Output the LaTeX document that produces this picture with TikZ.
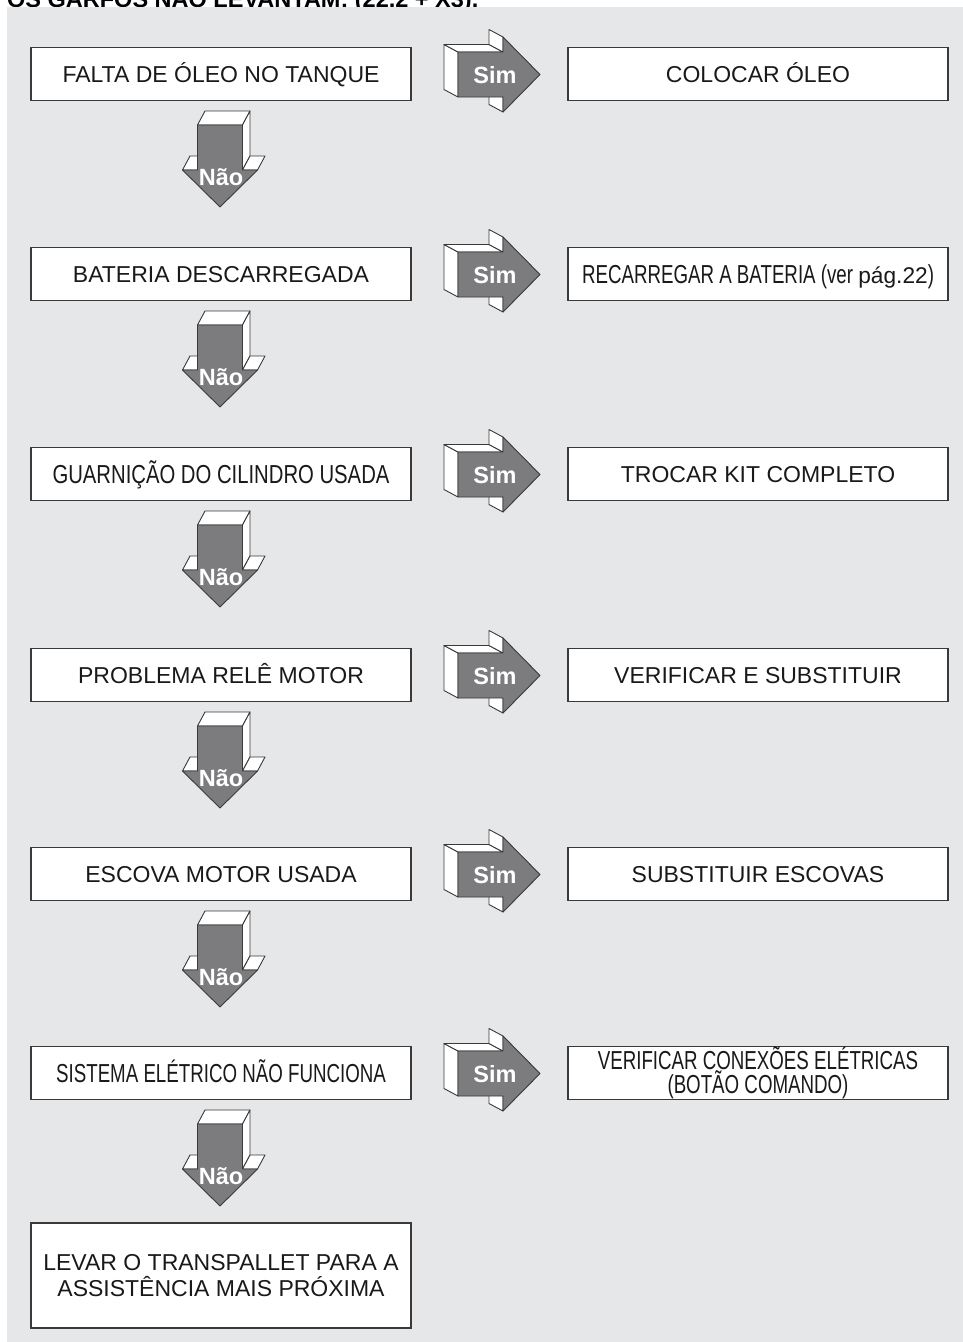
\documentclass[tikz,border=0pt]{standalone}
\usepackage{fontspec}
\setmainfont{Liberation Sans}
\newfontfamily\condfont[FakeStretch=0.72]{Liberation Sans}
\newfontfamily\semicondfont[FakeStretch=0.78]{Liberation Sans}
\usetikzlibrary{positioning}
\definecolor{panelgray}{HTML}{E6E7E9}
\definecolor{arrowgray}{HTML}{7C7C7F}
\definecolor{edgegray}{HTML}{3A3A3A}

\tikzset{
  twobox/.style={draw=edgegray, line width=1.1pt, fill=white, minimum width=380pt,
    minimum height=53pt, inner sep=0pt, align=center,
    font=\fontsize{23}{26}\selectfont, text=black!90},
  qbox/.style={twobox, text height=17pt, text depth=0pt},
  condbox/.style={qbox, font=\fontsize{26}{24}\condfont, text height=18pt},
  condtwobox/.style={twobox, font=\fontsize{26}{24}\condfont},
  arrowlbl/.style={font=\fontsize{23.5}{24}\bfseries\selectfont, text=white, inner sep=0pt},
  face/.style={draw=edgegray, line width=0.9pt, fill=white, line join=round},
  front/.style={draw=edgegray, line width=0.9pt, fill=arrowgray, line join=round},
  arrow3d/.pic={
    % side faces
    \filldraw[face] (0,-22.5) -- (0,22.5) -- (-14,15) -- (-14,-30) -- cycle;
    \filldraw[face] (0,-22.5) -- (45,-22.5) -- (31,-30) -- (-14,-30) -- cycle;
    \filldraw[face] (45,-22.5) -- (45,-37.5) -- (31,-45) -- (31,-30) -- cycle;
    \filldraw[face] (45,22.5) -- (45,37.5) -- (31,30) -- (31,15) -- cycle;
    % front face
    \filldraw[front] (0,-22.5) -- (45,-22.5) -- (45,-37.5) -- (82,0) -- (45,37.5)
      -- (45,22.5) -- (0,22.5) -- cycle;
  }
}

\begin{document}
\begin{tikzpicture}[x=1pt, y=-1pt]
  \useasboundingbox (0,0) rectangle (963,1342);
  \clip (0,0) rectangle (963,1342);
  \node[anchor=base west, inner sep=0pt, font=\fontsize{23.5}{24}\bfseries\selectfont]
    (title) at (7,7) {OS GARFOS NÃO LEVANTAM: (22,2 + X3).};
  \fill[panelgray] (7,7) rectangle (963,1342);

  \foreach \y/\q/\a/\qs/\as [count=\n] in {
      74/{FALTA DE ÓLEO NO TANQUE}/{COLOCAR ÓLEO}/qbox/qbox,
      274/{BATERIA DESCARREGADA}/{RECARREGAR A BATERIA (ver {\fontsize{22.7}{24}\rmfamily pág.22})}/qbox/condbox,
      474/{{\semicondfont GUARNIÇÃO DO CILINDRO USADA}}/{TROCAR KIT COMPLETO}/condbox/qbox,
      675/{PROBLEMA RELÊ MOTOR}/{VERIFICAR E SUBSTITUIR}/qbox/qbox,
      874/{ESCOVA MOTOR USADA}/{SUBSTITUIR ESCOVAS}/qbox/qbox,
      1073/{SISTEMA ELÉTRICO NÃO FUNCIONA}/{VERIFICAR CONEXÕES ELÉTRICAS\\(BOTÃO COMANDO)}/condbox/condtwobox} {
    \node[\qs] (q\n) at (221,\y) {\q};
    \node[\as] (a\n) at (758,\y) {\a};
    \pic at (458,\y+0.5) {arrow3d};
    \node[arrowlbl] (sim\n) at (495,\y+1) {Sim};
    \pic[rotate=-90] at (220,\y+51) {arrow3d};
    \node[arrowlbl] (nao\n) at (221,\y+103) {Não};
  }

  \node[twobox, minimum height=105pt] (last) at (221,1275.5)
    {LEVAR O TRANSPALLET PARA A\\ASSISTÊNCIA MAIS PRÓXIMA};
\end{tikzpicture}
\end{document}
